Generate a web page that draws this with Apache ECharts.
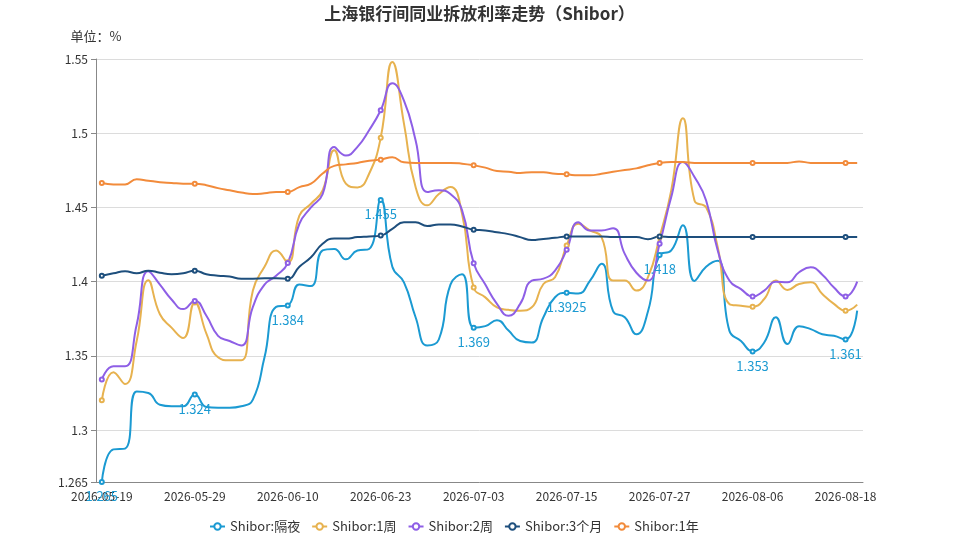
<!DOCTYPE html>
<html>
<head>
<meta charset="utf-8">
<title>Shibor</title>
<script src="https://cdn.jsdelivr.net/npm/echarts@6/dist/echarts.min.js"></script>
<style>
  html, body { margin: 0; padding: 0; background: #fff; }
  #chart { width: 959px; height: 540px; }
</style>
</head>
<body>
<div id="chart"></div>
<script>
// trading days (Shanghai interbank)
var dates = [
  '2026-05-19','2026-05-20','2026-05-21','2026-05-22','2026-05-25','2026-05-26','2026-05-27','2026-05-28','2026-05-29',
  '2026-06-01','2026-06-02','2026-06-03','2026-06-04','2026-06-05','2026-06-08','2026-06-09','2026-06-10',
  '2026-06-11','2026-06-12','2026-06-15','2026-06-16','2026-06-17','2026-06-18','2026-06-22','2026-06-23',
  '2026-06-24','2026-06-25','2026-06-26','2026-06-29','2026-06-30','2026-07-01','2026-07-02','2026-07-03',
  '2026-07-06','2026-07-07','2026-07-08','2026-07-09','2026-07-10','2026-07-13','2026-07-14','2026-07-15',
  '2026-07-16','2026-07-17','2026-07-20','2026-07-21','2026-07-22','2026-07-23','2026-07-24','2026-07-27',
  '2026-07-28','2026-07-29','2026-07-30','2026-07-31','2026-08-03','2026-08-04','2026-08-05','2026-08-06',
  '2026-08-07','2026-08-10','2026-08-11','2026-08-12','2026-08-13','2026-08-14','2026-08-17','2026-08-18',
  '2026-08-19'
];

var overnight = [
  1.265, 1.287, 1.2875, 1.326, 1.325, 1.317, 1.316, 1.316, 1.324,
  1.3155, 1.315, 1.315, 1.316, 1.3205, 1.349, 1.383, 1.384,
  1.398, 1.397, 1.421, 1.422, 1.415, 1.421, 1.422, 1.455,
  1.41, 1.3995, 1.376, 1.357, 1.361, 1.398, 1.405, 1.369,
  1.37, 1.374, 1.367, 1.36, 1.359, 1.376, 1.3895, 1.3925,
  1.392, 1.4005, 1.412, 1.38, 1.376, 1.3645, 1.38, 1.418,
  1.421, 1.438, 1.4005, 1.41, 1.414, 1.367, 1.36, 1.353,
  1.359, 1.376, 1.358, 1.37, 1.368, 1.3645, 1.3635, 1.361,
  1.3805
];

var week1 = [
  1.32, 1.339, 1.331, 1.36, 1.401, 1.378, 1.369, 1.362, 1.386,
  1.365, 1.349, 1.347, 1.347, 1.394, 1.41, 1.421, 1.413,
  1.4445, 1.4525, 1.4615, 1.4885, 1.466, 1.4635, 1.4727, 1.497,
  1.548, 1.5065, 1.4637, 1.4514, 1.459, 1.4637, 1.4457, 1.396,
  1.3894, 1.3827, 1.381, 1.3804, 1.3827, 1.3984, 1.403, 1.4243,
  1.439, 1.4345, 1.43, 1.4007, 1.4007, 1.394, 1.403, 1.43,
  1.4615, 1.51, 1.4547, 1.45, 1.4232, 1.385, 1.3838, 1.3831,
  1.3883, 1.4007, 1.3944, 1.3984, 1.3995, 1.3917, 1.385, 1.3804,
  1.3845
];

var week2 = [
  1.334, 1.343, 1.343, 1.371, 1.407, 1.398, 1.388, 1.3815, 1.387,
  1.377, 1.3635, 1.36, 1.357, 1.383, 1.398, 1.404, 1.4125,
  1.439, 1.45, 1.459, 1.4907, 1.485, 1.4908, 1.502, 1.5155,
  1.5336, 1.522, 1.4953, 1.4604, 1.4615, 1.459, 1.448, 1.4124,
  1.398, 1.385, 1.377, 1.385, 1.4007, 1.402, 1.4074, 1.4214,
  1.44, 1.4345, 1.4345, 1.436, 1.4187, 1.406, 1.4007, 1.4255,
  1.457, 1.4806, 1.4705, 1.4547, 1.421, 1.4007, 1.395, 1.39,
  1.394, 1.4, 1.3995, 1.4063, 1.4097, 1.4047, 1.396, 1.39,
  1.4
];

var month3 = [
  1.404, 1.4056, 1.407, 1.4056, 1.4074, 1.406, 1.405, 1.4056, 1.4074,
  1.405, 1.404, 1.4034, 1.402, 1.402, 1.4022, 1.4022, 1.402,
  1.41, 1.4164, 1.4255, 1.429, 1.429, 1.43, 1.4304, 1.431,
  1.4356, 1.44, 1.44, 1.4374, 1.4385, 1.4385, 1.4372, 1.435,
  1.4345, 1.4333, 1.432, 1.43, 1.428, 1.4288, 1.4295, 1.4304,
  1.4304, 1.4304, 1.4304, 1.43, 1.43, 1.43, 1.4286, 1.4304,
  1.43, 1.43, 1.43, 1.43, 1.43, 1.43, 1.43, 1.43,
  1.43, 1.43, 1.43, 1.43, 1.43, 1.43, 1.43, 1.43,
  1.43
];

var year1 = [
  1.4664, 1.4655, 1.4655, 1.469, 1.468, 1.467, 1.4665, 1.466, 1.466,
  1.465, 1.463, 1.4615, 1.46, 1.459, 1.4595, 1.4604, 1.4604,
  1.4637, 1.466, 1.4728, 1.478, 1.479, 1.48, 1.4815, 1.4822,
  1.4838, 1.4804, 1.48, 1.48, 1.48, 1.48, 1.4795, 1.4784,
  1.4768, 1.4745, 1.474, 1.4732, 1.4737, 1.4737, 1.4727, 1.4723,
  1.4716, 1.4716, 1.4727, 1.474, 1.4752, 1.4763, 1.4784, 1.48,
  1.4806, 1.4806, 1.48, 1.48, 1.48, 1.48, 1.48, 1.48,
  1.48, 1.48, 1.48, 1.481, 1.48, 1.48, 1.48, 1.48,
  1.48
];

var seriesNames = ['Shibor:隔夜', 'Shibor:1周', 'Shibor:2周', 'Shibor:3个月', 'Shibor:1年'];
var seriesColors = ['#1b9ad2', '#e7b24f', '#8e5fe6', '#1e4f7d', '#f28b3b'];

var FONT = '"Noto Sans CJK SC", "Noto Sans", sans-serif';

function lineSeries(idx, data, withLabel) {
  var s = {
    name: seriesNames[idx],
    type: 'line',
    data: data,
    smooth: true,
    showAllSymbol: false,
    symbol: 'emptyCircle',
    symbolSize: 4,
    lineStyle: { width: 2 },
    itemStyle: { color: seriesColors[idx] }
  };
  if (withLabel) {
    s.label = {
      show: true,
      position: 'bottom',
      color: seriesColors[idx],
      fontSize: 13,
      fontFamily: FONT
    };
  }
  return s;
}

var myChart = echarts.init(document.getElementById('chart'));

var option = {
  animation: false,
  textStyle: { fontFamily: FONT },
  color: seriesColors,
  title: {
    text: '上海银行间同业拆放利率走势（Shibor）',
    left: 'center',
    top: 0,
    textStyle: { fontSize: 17, fontWeight: 'bold', color: '#333', fontFamily: FONT }
  },
  legend: {
    bottom: 2,
    left: 204,
    itemGap: 11,
    itemWidth: 15,
    itemHeight: 8,
    textStyle: { fontSize: 13, color: '#333', fontFamily: FONT },
    data: seriesNames
  },
  grid: { left: 96, right: 96, top: 59, bottom: 58, containLabel: false },
  xAxis: {
    type: 'category',
    data: dates,
    boundaryGap: true,
    axisLine: { lineStyle: { color: '#888' } },
    axisTick: { interval: 7 },
    axisLabel: { interval: 7, color: '#333', fontSize: 12, margin: 8 }
  },
  yAxis: {
    type: 'value',
    min: 1.265,
    max: 1.55,
    name: '单位：%',
    nameGap: 16,
    nameTextStyle: { color: '#333', fontSize: 13, align: 'center' },
    axisLine: { show: true, lineStyle: { color: '#888' } },
    axisTick: { show: true },
    axisLabel: { color: '#333', fontSize: 12 },
    splitLine: { lineStyle: { color: '#dcdcdc' } }
  },
  series: [
    lineSeries(0, overnight, true),
    lineSeries(1, week1, false),
    lineSeries(2, week2, false),
    lineSeries(3, month3, false),
    lineSeries(4, year1, false)
  ]
};

myChart.setOption(option);
</script>
</body>
</html>
